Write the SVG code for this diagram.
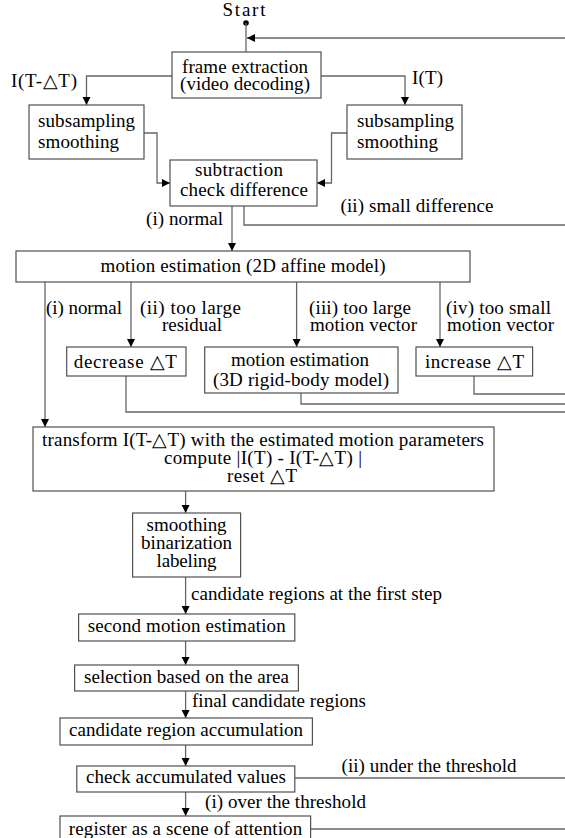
<svg xmlns="http://www.w3.org/2000/svg" width="565" height="838" viewBox="0 0 565 838">
<defs>
<marker id="arr" markerUnits="userSpaceOnUse" markerWidth="9" markerHeight="9" refX="8" refY="4" orient="auto">
<path d="M0,0 L8,4 L0,8 z" fill="#000"/>
</marker>
<style>
text{font-family:"Liberation Serif","Times New Roman",serif;font-size:19px;fill:#000}
.c{text-anchor:middle}
rect{fill:#fff;stroke:#505050;stroke-width:1.2}
.ln{fill:none;stroke:#666;stroke-width:1.3}
.ar{fill:none;stroke:#666;stroke-width:1.3;marker-end:url(#arr)}
</style>
</defs>
<rect x="0" y="0" width="565" height="838" style="fill:#fff;stroke:none"/>
<g id="connectors">
<circle cx="246" cy="23" r="2.8" fill="#000"/>
<path class="ln" d="M246 23 V52"/>
<path class="ar" d="M565 38 H247"/>
<path class="ar" d="M172 76 H86.5 V105"/>
<path class="ar" d="M321 76 H405 V105"/>
<path class="ar" d="M144 133 H157 V183 H170"/>
<path class="ar" d="M347 133 H331.5 V183 H317"/>
<path class="ar" d="M232 206 V251"/>
<path class="ln" d="M244 206 V225 H565"/>
<path class="ar" d="M45 282 V427"/>
<path class="ar" d="M131 282 V347"/>
<path class="ar" d="M296.6 282 V347"/>
<path class="ar" d="M440 282 V347"/>
<path class="ln" d="M126 376 V412 H565"/>
<path class="ln" d="M301 393 V404 H565"/>
<path class="ln" d="M474 376 V394 H565"/>
<path class="ar" d="M185.6 491 V513"/>
<path class="ar" d="M185.6 577 V614"/>
<path class="ar" d="M185.6 641 V665"/>
<path class="ar" d="M185.6 691 V718"/>
<path class="ar" d="M185.6 745 V766"/>
<path class="ln" d="M294.8 778 H565"/>
<path class="ar" d="M185.6 792 V816"/>
<path class="ln" d="M310.6 829 H565"/>
</g>
<g id="labels">
<text x="11" y="87" textLength="66" lengthAdjust="spacing">I(T-△T)</text>
<text x="412" y="84" textLength="31" lengthAdjust="spacing">I(T)</text>
<text x="340.5" y="212" textLength="153" lengthAdjust="spacing">(ii) small difference</text>
<text x="146" y="225" textLength="77" lengthAdjust="spacing">(i) normal</text>
<text x="46" y="314" textLength="76" lengthAdjust="spacing">(i) normal</text>
<text x="140" y="314" textLength="101" lengthAdjust="spacing">(ii) too large</text>
<text x="162" y="331" textLength="60" lengthAdjust="spacing">residual</text>
<text x="309" y="314" textLength="102" lengthAdjust="spacing">(iii) too large</text>
<text x="310" y="331" textLength="107" lengthAdjust="spacing">motion vector</text>
<text x="446" y="314" textLength="105" lengthAdjust="spacing">(iv) too small</text>
<text x="447" y="331" textLength="107" lengthAdjust="spacing">motion vector</text>
<text x="191" y="600" textLength="251" lengthAdjust="spacing">candidate regions at the first step</text>
<text x="192" y="707" textLength="174" lengthAdjust="spacing">final candidate regions</text>
<text x="341.6" y="772" textLength="175" lengthAdjust="spacing">(ii) under the threshold</text>
<text x="205" y="808" textLength="161" lengthAdjust="spacing">(i) over the threshold</text>
</g>
<g id="start"><text class="c" x="244" y="16" textLength="43" lengthAdjust="spacing">Start</text></g>
<g id="frame">
<rect x="172" y="52" width="149" height="46"/>
<text class="c" x="245" y="73" textLength="126" lengthAdjust="spacing">frame extraction</text>
<text class="c" x="245" y="90" textLength="130" lengthAdjust="spacing">(video decoding)</text>
</g>
<g id="sub_left">
<rect x="29" y="105" width="115" height="54"/>
<text x="38" y="127" textLength="97" lengthAdjust="spacing">subsampling</text>
<text x="38" y="148" textLength="81" lengthAdjust="spacing">smoothing</text>
</g>
<g id="sub_right">
<rect x="347" y="105" width="115" height="54"/>
<text x="357" y="127" textLength="97" lengthAdjust="spacing">subsampling</text>
<text x="357" y="148" textLength="81" lengthAdjust="spacing">smoothing</text>
</g>
<g id="subtraction">
<rect x="170" y="160" width="147" height="46"/>
<text class="c" x="239" y="176" textLength="88" lengthAdjust="spacing">subtraction</text>
<text class="c" x="244" y="196" textLength="128" lengthAdjust="spacing">check difference</text>
</g>
<g id="motion2d">
<rect x="16" y="251" width="454" height="31"/>
<text class="c" x="243" y="272" textLength="285" lengthAdjust="spacing">motion estimation (2D affine model)</text>
</g>
<g id="decrease">
<rect x="66.7" y="347" width="119.3" height="29"/>
<text class="c" x="125.3" y="368" textLength="103" lengthAdjust="spacing">decrease △T</text>
</g>
<g id="motion3d">
<rect x="204.7" y="347" width="193.3" height="46"/>
<text class="c" x="300" y="366" textLength="138" lengthAdjust="spacing">motion estimation</text>
<text class="c" x="301" y="386" textLength="176" lengthAdjust="spacing">(3D rigid-body model)</text>
</g>
<g id="increase">
<rect x="416" y="347" width="116.6" height="29"/>
<text class="c" x="474.5" y="368" textLength="99" lengthAdjust="spacing">increase △T</text>
</g>
<g id="transform">
<rect x="33" y="427" width="461" height="64"/>
<text class="c" x="263" y="446" textLength="442" lengthAdjust="spacing">transform I(T-△T) with the estimated motion parameters</text>
<text class="c" x="263" y="464" textLength="198" lengthAdjust="spacing">compute |I(T) - I(T-△T) |</text>
<text class="c" x="262" y="482" textLength="70" lengthAdjust="spacing">reset △T</text>
</g>
<g id="smoothing">
<rect x="132.6" y="513" width="108" height="64"/>
<text class="c" x="186.6" y="531" textLength="80" lengthAdjust="spacing">smoothing</text>
<text class="c" x="186.6" y="549" textLength="91" lengthAdjust="spacing">binarization</text>
<text class="c" x="186.6" y="567" textLength="60" lengthAdjust="spacing">labeling</text>
</g>
<g id="second">
<rect x="78.6" y="614" width="216.2" height="27"/>
<text class="c" x="186.7" y="632" textLength="198" lengthAdjust="spacing">second motion estimation</text>
</g>
<g id="selection">
<rect x="74.6" y="665" width="223.8" height="26"/>
<text class="c" x="186.5" y="683" textLength="205" lengthAdjust="spacing">selection based on the area</text>
</g>
<g id="accumulation">
<rect x="60" y="718" width="252.4" height="27"/>
<text class="c" x="186" y="736" textLength="234" lengthAdjust="spacing">candidate region accumulation</text>
</g>
<g id="check">
<rect x="76.8" y="766" width="218" height="26"/>
<text class="c" x="186" y="783" textLength="200" lengthAdjust="spacing">check accumulated values</text>
</g>
<g id="register">
<rect x="60" y="816" width="250.6" height="30"/>
<text class="c" x="185.5" y="835" textLength="233.5" lengthAdjust="spacing">register as a scene of attention</text>
</g>
</svg>
